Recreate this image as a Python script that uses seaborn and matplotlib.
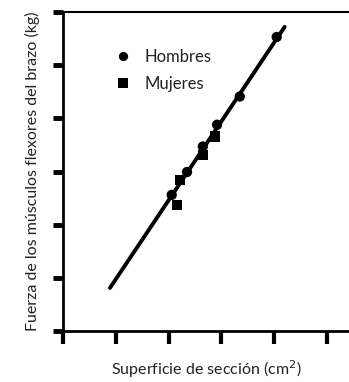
import matplotlib
matplotlib.use("Agg")
import matplotlib.pyplot as plt
import seaborn as sns
import pandas as pd

# Values (no numeric tick labels in the original)
hombres_x = [4.05, 3.35, 2.92, 2.65, 2.35, 2.06]
hombres_y = [5.53, 4.41, 3.88, 3.47, 2.99, 2.56]
mujeres_x = [2.88, 2.65, 2.22, 2.16]
mujeres_y = [3.66, 3.31, 2.84, 2.37]
line_x = [0.89, 4.20]
line_y = [0.81, 5.72]
x_ticks = [0, 1, 2, 3, 4, 5]
y_ticks = [0, 1, 2, 3, 4, 5, 6]

sns.set_theme(style="white")
plt.rcParams['font.family'] = ['Lato', 'DejaVu Sans']

df = pd.DataFrame({
    'x': hombres_x + mujeres_x,
    'y': hombres_y + mujeres_y,
    'grupo': ['Hombres'] * len(hombres_x) + ['Mujeres'] * len(mujeres_x),
})

fig = plt.figure(figsize=(3.49, 3.82), dpi=100)
ax = fig.add_axes([63 / 349, 51 / 382, 1 - 63 / 349, 319 / 382])

sns.lineplot(x=line_x, y=line_y, color='black', linewidth=2.8, ax=ax)
sns.scatterplot(data=df, x='x', y='y', hue='grupo', style='grupo',
                palette={'Hombres': 'black', 'Mujeres': 'black'},
                markers={'Hombres': 'o', 'Mujeres': 's'},
                s=55, edgecolor='black', linewidth=0, ax=ax, zorder=3)

ax.set_xlim(0, 5.42)
ax.set_ylim(0, 6)
ax.set_xticks(x_ticks)
ax.set_yticks(y_ticks)
ax.set_xticklabels([])
ax.set_yticklabels([])
ax.tick_params(axis='x', direction='out', length=9, width=3, color='black', bottom=True)
ax.tick_params(axis='y', direction='out', length=7, width=3.5, color='black', left=True)

for side in ['left', 'bottom']:
    ax.spines[side].set_linewidth(2)
    ax.spines[side].set_color('black')
ax.spines['top'].set_linewidth(1.5)
ax.spines['top'].set_color('black')
ax.spines['right'].set_visible(False)

ax.set_xlabel('Superficie de sección (cm$^2$)', fontsize=11.5, labelpad=7, color='#222222')
ax.set_ylabel('Fuerza de los músculos flexores del brazo (kg)', fontsize=11.5,
              labelpad=6, color='#222222')

leg = ax.legend(loc='upper left', bbox_to_anchor=(0.1, 0.93), frameon=False,
                fontsize=12, handletextpad=0.3, labelspacing=0.65,
                markerscale=0.9)
for t in leg.get_texts():
    t.set_color('#222222')

fig.savefig('out.png', dpi=100)
